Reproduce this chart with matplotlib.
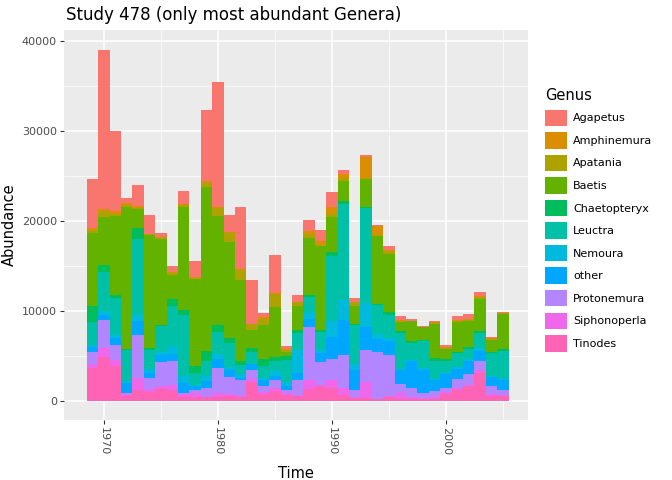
import matplotlib
matplotlib.use("Agg")
import matplotlib.pyplot as plt
from matplotlib.patches import Patch
import numpy as np

years = list(range(1969, 2006))
genera = ["Agapetus", "Amphinemura", "Apatania", "Baetis", "Chaetopteryx", "Leuctra",
          "Nemoura", "other", "Protonemura", "Siphonoperla", "Tinodes"]
colors = ["#F8766D", "#DB8E00", "#AEA200", "#64B200", "#00BD5C", "#00C1A7",
          "#00BADE", "#00A6FF", "#B385FF", "#EF67EB", "#FF63B6"]

# values in thousands, stacked bottom (Tinodes) to top (Agapetus)
Tinodes = [3.7,4.9,3.9,0.6,1.2,1.0,1.3,1.2,0.4,0.4,0.4,0.5,0.6,0.4,2.1,0.8,1.1,0.7,0.6,1.3,1.7,1.5,0.7,0.3,0.3,0.2,0.4,0.2,0.2,0.2,0.2,0.8,1.2,1.7,3.1,0.6,0.6]
Siphonoperla = [0.4,1.0,0.7,0.2,1.4,0.3,0.4,0.6,0.4,0.5,0.1,0.4,0.2,0.2,0.3,0.2,0.3,0.2,0.1,1.0,0.05,0.8,0.8,0.1,1.8,0.05,0.2,0.7,0.2,0.1,0.2,0.2,0.3,0.05,0.3,0.2,0.1]
Protonemura = [1.3,3.1,1.6,0.1,4.7,1.3,2.6,2.7,0.1,0.3,1.0,2.8,1.9,1.7,1.1,0.7,0.9,0.3,1.6,5.9,2.6,2.4,3.6,0.8,3.6,5.2,4.5,1.0,1.1,0.6,0.7,0.5,0.9,1.3,1.1,0.9,0.5]
other = [0.6,0.6,0.8,1.1,1.6,0.5,0.8,0.7,1.1,0.5,0.7,1.0,0.7,0.3,0.6,0.6,0.5,0.5,0.8,0.9,1.0,2.4,3.9,2.3,2.5,1.4,1.6,1.6,2.9,2.5,1.2,1.5,1.2,1.4,1.1,1.0,1.1]
Nemoura = [0.2,0.4,0.3,0.2,0.7,0.5,0.4,0.9,0.8,0.1,0.6,0.5,0.4,0.4,0.05,0.3,0.5,0.4,2.6,0.8,0.3,1.8,2.2,0.6,2.7,0.6,0.3,0.1,0.2,0.3,0.1,0.2,0.2,0.2,0.3,0.1,0.3]
Leuctra = [2.6,4.3,4.2,3.5,8.4,2.1,2.8,4.5,6.8,1.3,1.6,2.5,2.7,1.0,1.3,1.3,1.1,2.5,1.9,1.7,2.0,7.2,10.7,4.3,10.5,3.2,2.6,4.0,1.8,3.0,2.0,1.3,1.5,1.1,1.7,2.5,3.0]
Chaetopteryx = [1.8,0.8,0.3,0.1,1.2,0.2,0.2,0.7,0.5,0.8,1.2,0.8,0.5,0.4,0.4,0.8,0.5,0.4,0.3,0.2,0.2,0.5,0.3,0.2,0.1,0.1,0.3,0.2,0.3,0.1,0.4,0.2,0.2,0.2,0.2,0.2,0.2]
Baetis = [8.1,5.3,8.8,15.8,2.1,12.5,9.5,2.7,11.4,9.6,18.2,12.1,10.7,9.0,2.0,3.7,5.6,0.5,2.7,6.3,9.4,3.8,2.2,2.0,3.2,7.6,6.4,1.0,2.2,1.4,3.8,1.1,3.3,2.9,3.5,1.3,3.9]
Apatania = [0.3,0.7,0.2,0.2,0.1,0.1,0.1,0.2,0.3,0.2,0.4,0.8,1.0,1.2,0.7,0.7,1.4,0.2,0.4,0.5,0.1,0.5,0.4,0.4,0.1,0.05,0.4,0.05,0.02,0.02,0.05,0.1,0.1,0.1,0.3,0.1,0.05]
Amphinemura = [0.2,0.2,0.3,0.2,0.3,0.1,0.1,0.1,0.05,0.1,0.2,0.1,0.1,0.05,0.05,0.2,0.05,0.1,0.05,0.3,0.4,0.6,0.4,0.05,2.3,1.0,0.1,0.2,0.02,0.02,0.1,0.1,0.1,0.2,0.05,0.1,0.05]
Agapetus = [5.5,17.7,8.9,0.5,2.3,2.1,0.5,0.7,1.5,1.8,7.9,13.9,1.9,6.9,4.8,0.5,4.3,0.3,0.7,1.2,1.3,1.7,0.5,0.4,0.2,0.2,0.4,0.4,0.2,0.05,0.1,0.2,0.5,0.5,0.5,0.1,0.1]

series = {"Tinodes": Tinodes, "Siphonoperla": Siphonoperla, "Protonemura": Protonemura,
          "other": other, "Nemoura": Nemoura, "Leuctra": Leuctra, "Chaetopteryx": Chaetopteryx,
          "Baetis": Baetis, "Apatania": Apatania, "Amphinemura": Amphinemura, "Agapetus": Agapetus}
cmap = dict(zip(genera, colors))

fig = plt.figure(figsize=(6.72, 4.8), dpi=100)
ax = fig.add_axes([64/672, 1-420/480, (528-64)/672, (420-30)/480])
ax.set_facecolor("#EBEBEB")
bottom = np.zeros(len(years))
for g in ["Tinodes", "Siphonoperla", "Protonemura", "other", "Nemoura", "Leuctra",
          "Chaetopteryx", "Baetis", "Apatania", "Amphinemura", "Agapetus"]:
    v = np.array(series[g]) * 1000
    ax.bar(years, v, bottom=bottom, width=1.0, color=cmap[g], linewidth=0, zorder=3)
    bottom += v

ax.set_xlim(1966.5, 2007.2)
ax.set_ylim(-2111, 41222)
ax.set_xticks([1970, 1980, 1990, 2000])
ax.set_xticks([1975, 1985, 1995, 2005], minor=True)
ax.set_yticks([0, 10000, 20000, 30000, 40000])
ax.set_yticks([5000, 15000, 25000, 35000], minor=True)
ax.set_xticklabels(["1970", "1980", "1990", "2000"], rotation=-90)
ax.grid(which="major", color="white", linewidth=1.1, zorder=0)
ax.grid(which="minor", color="white", linewidth=0.5, zorder=0)
for s in ax.spines.values():
    s.set_visible(False)
ax.tick_params(which="both", colors="#333333", length=3, labelsize=8, labelcolor="#4D4D4D", pad=2)
ax.tick_params(which="minor", length=0)
ax.set_xlabel("Time", fontsize=10.5)
ax.set_ylabel("Abundance", fontsize=10.5)
ax.yaxis.set_label_coords(-47/464, 0.5)
ax.xaxis.set_label_coords(0.5, -46/390)
ax.set_title("Study 478 (only most abundant Genera)", loc="left", fontsize=12, x=0.005, pad=7)

handles = [Patch(facecolor=c, edgecolor="none") for c in colors]
leg = fig.legend(handles, genera, title="Genus", loc="upper left", bbox_to_anchor=(541/672, 1-84/480),
                 frameon=False, fontsize=8, title_fontsize=10.5, handlelength=1.9, handleheight=1.9,
                 labelspacing=0.55, handletextpad=0.6, borderaxespad=0)
leg._legend_box.align = "left"
fig.savefig("out.png", dpi=100)
